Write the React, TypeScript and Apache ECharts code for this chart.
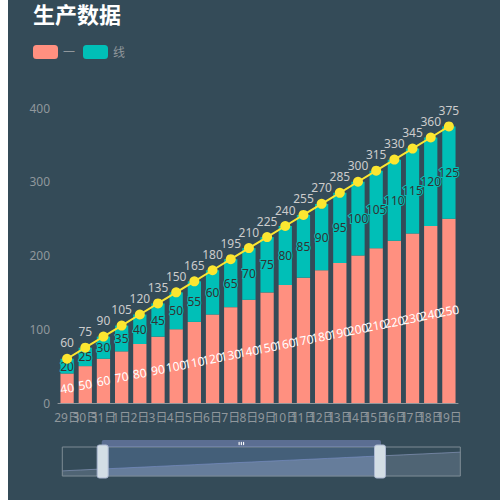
import React, { useEffect, useRef } from "react";
import * as echarts from "echarts";

const categories = ["29日", "30日", "31日", "1日", "2日", "3日", "4日", "5日", "6日", "7日", "8日", "9日", "10日", "11日", "12日", "13日", "14日", "15日", "16日", "17日", "18日", "19日"];
const seriesOne = [40, 50, 60, 70, 80, 90, 100, 110, 120, 130, 140, 150, 160, 170, 180, 190, 200, 210, 220, 230, 240, 250];
const seriesLine = [20, 25, 30, 35, 40, 45, 50, 55, 60, 65, 70, 75, 80, 85, 90, 95, 100, 105, 110, 115, 120, 125];
const totals = [60, 75, 90, 105, 120, 135, 150, 165, 180, 195, 210, 225, 240, 255, 270, 285, 300, 315, 330, 345, 360, 375];
const legendNames = ["一", "线"];
const titleText = "生产数据";

const FONT = "'Noto Sans', 'Noto Sans CJK SC', sans-serif";

export default function App() {
  const ref = useRef<HTMLDivElement>(null);
  useEffect(() => {
    if (!ref.current) return;
    const chart = echarts.init(ref.current, undefined, { renderer: "svg" });
    chart.setOption({
      animation: false,
      backgroundColor: "#344b58",
      textStyle: { fontFamily: FONT },
      title: {
        text: titleText,
        left: "4%",
        top: -2,
        textStyle: { color: "#fff", fontSize: 22, fontWeight: "bold", fontFamily: FONT },
      },
      legend: {
        data: legendNames,
        left: "4%",
        top: 40,
        itemWidth: 25,
        itemHeight: 14,
        textStyle: { color: "#90979c", fontSize: 12, fontFamily: FONT },
      },
      grid: { left: 50, right: 50, top: 108, bottom: 97, containLabel: false },
      xAxis: [
        {
          type: "category",
          data: categories,
          axisLine: { lineStyle: { color: "#90979c" } },
          axisTick: { show: false },
          splitLine: { show: false },
          axisLabel: { interval: 0, color: "#90979c", fontSize: 12, fontFamily: FONT },
        },
        {
          type: "category",
          data: categories,
          show: false,
        },
      ],
      yAxis: {
        type: "value",
        min: 0,
        max: 400,
        interval: 100,
        splitLine: { show: false },
        axisLine: { show: false },
        axisTick: { show: false },
        axisLabel: { color: "#90979c", fontSize: 12, fontFamily: FONT },
      },
      dataZoom: [
        {
          type: "slider",
          show: true,
          xAxisIndex: [1],
          start: 10,
          end: 80,
          left: 51,
          right: 50,
          top: 440,
          height: 30,
          borderColor: "#7d8b94",
          handleIcon:
            "path://M2,0 H8 A2,2 0 0 1 10,2 V28 A2,2 0 0 1 8,30 H2 A2,2 0 0 1 0,28 V2 A2,2 0 0 1 2,0 Z",
          handleSize: "110%",
          handleStyle: { color: "#d3dee5", borderColor: "#acb8d1" },
          textStyle: { color: "#fff" },
          showDetail: false,
        },
      ],
      series: [
        {
          name: legendNames[0],
          type: "bar",
          stack: "total",
          barCategoryGap: "27%",
          itemStyle: { color: "rgba(255,144,128,1)" },
          label: {
            show: true,
            position: "inside",
            color: "#fff",
            rotate: 10,
            fontSize: 12,
            fontFamily: FONT,
          },
          data: seriesOne,
        },
        {
          name: legendNames[1],
          type: "bar",
          stack: "total",
          itemStyle: { color: "rgba(0,191,183,1)" },
          label: { show: true, position: "inside", fontSize: 12, fontFamily: FONT },
          data: seriesLine,
        },
        {
          name: "总数",
          type: "line",
          symbol: "circle",
          symbolSize: 10,
          itemStyle: { color: "rgba(252,230,48,1)" },
          lineStyle: { color: "rgba(252,230,48,1)", width: 2 },
          label: { show: true, position: "top", color: "#cccccc", fontSize: 12, fontFamily: FONT },
          data: totals,
        },
        {
          name: "shadow",
          type: "line",
          xAxisIndex: 1,
          symbol: "none",
          silent: true,
          lineStyle: { opacity: 0 },
          itemStyle: { opacity: 0 },
          data: totals,
        },
      ],
    });
    return () => chart.dispose();
  }, []);
  return (
    <div
      ref={ref}
      style={{ position: "fixed", left: 8, top: 0, width: 500, height: 500 }}
    />
  );
}
